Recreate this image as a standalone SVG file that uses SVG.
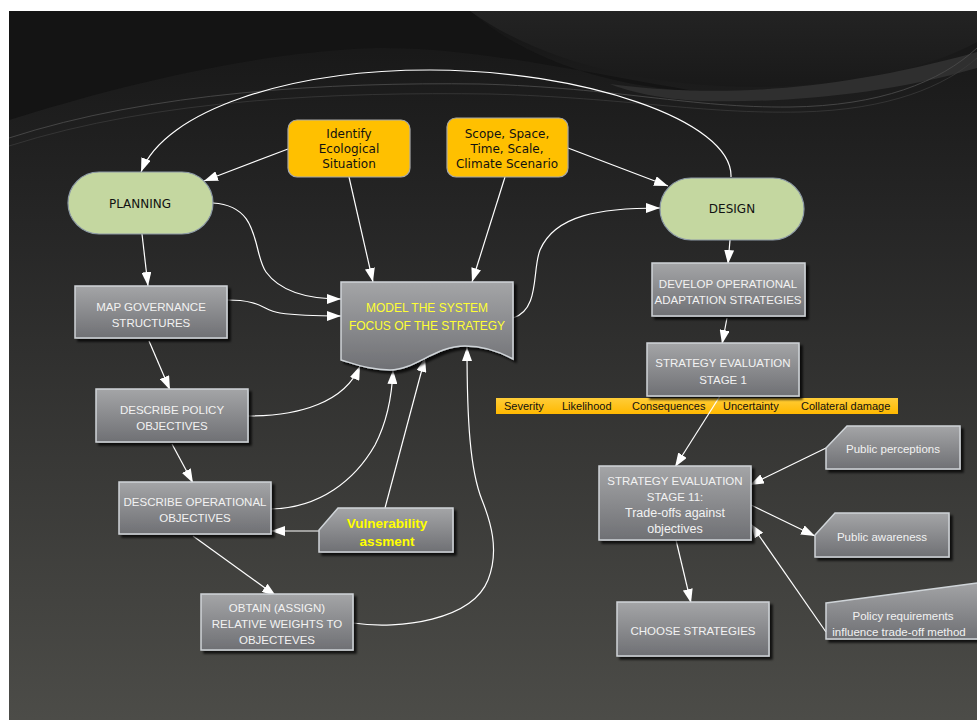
<svg xmlns="http://www.w3.org/2000/svg" width="977" height="720" viewBox="0 0 977 720">
<defs>
<linearGradient id="bg" x1="0" y1="0" x2="0" y2="1">
<stop offset="0" stop-color="#161616"/>
<stop offset="0.3" stop-color="#262626"/>
<stop offset="1" stop-color="#4c4c48"/>
</linearGradient>
<linearGradient id="gray" x1="0" y1="0" x2="0" y2="1">
<stop offset="0" stop-color="#a4a5a7"/>
<stop offset="1" stop-color="#6f7074"/>
</linearGradient>
<linearGradient id="bar" x1="0" y1="0" x2="0" y2="1">
<stop offset="0" stop-color="#ffcd38"/>
<stop offset="1" stop-color="#ffb800"/>
</linearGradient>
<linearGradient id="lobe" x1="0" y1="0" x2="0" y2="1">
<stop offset="0" stop-color="#232323"/>
<stop offset="1" stop-color="#191919"/>
</linearGradient>
<filter id="sh" x="-10%" y="-10%" width="130%" height="140%">
<feDropShadow dx="3" dy="3" stdDeviation="1.2" flood-color="#000" flood-opacity="0.75"/>
</filter>
<marker id="ah" viewBox="0 0 14 10" refX="14" refY="5" markerWidth="14" markerHeight="10" markerUnits="userSpaceOnUse" orient="auto">
<path d="M0,0 L14,5 L0,10 z" fill="#ffffff"/>
</marker>
<style>
.box{fill:url(#gray);stroke:#cfd4d8;stroke-width:1.5;filter:url(#sh)}
.pill{fill:#c4d7a0;stroke:#8d9aa6;stroke-width:1.2}
.org{fill:#ffc000;stroke:#a8a8a8;stroke-width:1.2}
.bt{font-family:"Liberation Sans",Arial,sans-serif;font-size:11.5px;fill:#f2f2f2;text-anchor:middle}
.lt{font-size:12.5px}
.vt{font-family:"DejaVu Sans",Verdana,sans-serif;font-size:12px;fill:#111;text-anchor:middle}
.yt{font-family:"Liberation Sans",Arial,sans-serif;font-size:12px;fill:#ffff33;text-anchor:middle}
.yb{font-family:"Liberation Sans",Arial,sans-serif;font-size:13.5px;font-weight:bold;fill:#ffff00;text-anchor:middle}
.bar{font-family:"Liberation Sans",Arial,sans-serif;font-size:11px;fill:#111}
.c{fill:none;stroke:#ffffff;stroke-width:1.2;marker-end:url(#ah)}
</style>
</defs>

<!-- background -->
<rect x="0" y="0" width="977" height="720" fill="#ffffff"/>
<rect x="9" y="11" width="968" height="709" fill="url(#bg)"/>
<path d="M9,11 H470 C520,55 600,86 700,92 C580,72 470,46 375,48 C250,52 110,88 9,120 Z" fill="#141414"/>
<path d="M470,11 H977 V42 C930,68 850,86 760,87 C650,88 540,62 470,11 Z" fill="url(#lobe)"/>
<path d="M610,84 C700,96 820,96 977,52 V68 C880,96 780,103 700,101 C660,99 630,92 610,84 Z" fill="#2f2f2f"/>
<path d="M9,138 C150,92 330,82 480,84 C620,88 690,108 790,107 C880,106 940,82 977,48" fill="none" stroke="#4a4a4a" stroke-width="0.9"/>
<path d="M9,146 C160,98 340,92 490,94 C630,98 700,114 800,112 C890,110 945,86 977,58" fill="none" stroke="#3a3a3a" stroke-width="0.8"/>

<!-- orange criteria bar -->
<g id="criteria-bar">
<rect x="496" y="398" width="402" height="16" fill="url(#bar)"/>
<text class="bar" x="504" y="410">Severity</text>
<text class="bar" x="562" y="410">Likelihood</text>
<text class="bar" x="632" y="410">Consequences</text>
<text class="bar" x="723" y="410">Uncertainty</text>
<text class="bar" x="801" y="410">Collateral damage</text>
</g>

<!-- connectors -->
<g id="connectors">
<path class="c" d="M731,177 C733,120 580,70 430,70 C290,70 165,110 141,172"/>
<path class="c" d="M288,149 L204,181"/>
<path class="c" d="M349,177 L373,282"/>
<path class="c" d="M505,177 L472,282"/>
<path class="c" d="M568,148 L668,186"/>
<path class="c" d="M213,203 C262,206 252,252 266,272 C282,294 312,299 341,299"/>
<path class="c" d="M227,300 C262,300 262,310 280,313 C300,316 320,316 341,316"/>
<path class="c" d="M142,234 L148,286"/>
<path class="c" d="M149,341 L170,390"/>
<path class="c" d="M172,444 L193,483"/>
<path class="c" d="M248,416 C300,416 345,402 360,366"/>
<path class="c" d="M271,509 C320,508 355,480 375,445 C388,420 392,395 393,370"/>
<path class="c" d="M385,508 L425,358"/>
<path class="c" d="M353,623 C400,630 472,620 488,580 C500,550 490,520 482,500 C470,470 467,420 467,347"/>
<path class="c" d="M319,531 L271,531"/>
<path class="c" d="M193,536 L276,596"/>
<path class="c" d="M513,318 C540,310 532,270 540,250 C555,215 600,208 660,208"/>
<path class="c" d="M730,240 L728,264"/>
<path class="c" d="M727,318 L722,344"/>
<path class="c" d="M720,396 L675,467"/>
<path class="c" d="M826,448 L750,485"/>
<path class="c" d="M751,505 L815,536"/>
<path class="c" d="M826,632 L751,524"/>
<path class="c" d="M676,540 L691,603"/>
</g>

<!-- nodes -->
<g id="planning">
<rect class="pill" x="68" y="172" width="145" height="62" rx="31"/>
<text class="vt" x="140" y="208" font-size="12.5">PLANNING</text>
</g>
<g id="identify">
<rect class="org" x="288" y="120" width="122" height="57" rx="9"/>
<text class="vt" x="349" y="138">Identify</text>
<text class="vt" x="349" y="153">Ecological</text>
<text class="vt" x="349" y="168">Situation</text>
</g>
<g id="scope">
<rect class="org" x="447" y="118" width="121" height="59" rx="9"/>
<text class="vt" x="507" y="138">Scope, Space,</text>
<text class="vt" x="507" y="153">Time, Scale,</text>
<text class="vt" x="507" y="168">Climate Scenario</text>
</g>
<g id="design">
<rect class="pill" x="660" y="178" width="144" height="62" rx="31"/>
<text class="vt" x="732" y="213" font-size="12.5">DESIGN</text>
</g>
<g id="map-governance">
<rect class="box" x="75" y="286" width="152" height="52"/>
<text class="bt" x="151" y="311">MAP GOVERNANCE</text>
<text class="bt" x="151" y="327">STRUCTURES</text>
</g>
<g id="policy-objectives">
<rect class="box" x="96" y="389" width="152" height="53"/>
<text class="bt" x="172" y="414">DESCRIBE POLICY</text>
<text class="bt" x="172" y="430">OBJECTIVES</text>
</g>
<g id="operational-objectives">
<rect class="box" x="119" y="482" width="152" height="52"/>
<text class="bt" x="195" y="506">DESCRIBE OPERATIONAL</text>
<text class="bt" x="195" y="522">OBJECTIVES</text>
</g>
<g id="vulnerability">
<path class="box" d="M338,508 H453 V552 H319 V530 Z"/>
<text class="yb" x="387" y="528">Vulnerability</text>
<text class="yb" x="387" y="546">assment</text>
</g>
<g id="obtain-weights">
<rect class="box" x="201" y="594" width="152" height="56"/>
<text class="bt" x="277" y="612">OBTAIN (ASSIGN)</text>
<text class="bt" x="277" y="628">RELATIVE WEIGHTS TO</text>
<text class="bt" x="277" y="644">OBJECTEVES</text>
</g>
<g id="model-system">
<path class="box" d="M341,282 H513 V359 C500,352 485,346 465,346 C435,346 415,370 390,370 C370,370 355,364 341,360 Z"/>
<text class="yt" x="427" y="312">MODEL THE SYSTEM</text>
<text class="yt" x="427" y="330">FOCUS OF THE STRATEGY</text>
</g>
<g id="develop-strategies">
<rect class="box" x="652" y="263" width="153" height="53"/>
<text class="bt" x="728" y="288">DEVELOP OPERATIONAL</text>
<text class="bt" x="728" y="304">ADAPTATION STRATEGIES</text>
</g>
<g id="evaluation-1">
<rect class="box" x="647" y="343" width="152" height="53"/>
<text class="bt" x="723" y="367">STRATEGY EVALUATION</text>
<text class="bt" x="723" y="384">STAGE 1</text>
</g>
<g id="evaluation-2">
<rect class="box" x="599" y="466" width="152" height="74"/>
<text class="bt" x="675" y="485">STRATEGY EVALUATION</text>
<text class="bt" x="675" y="501">STAGE 11:</text>
<text class="bt lt" x="675" y="517">Trade-offs against</text>
<text class="bt lt" x="675" y="533">objectives</text>
</g>
<g id="public-perceptions">
<path class="box" d="M847,426 H960 V469 H826 V448 Z"/>
<text class="bt" x="893" y="453">Public perceptions</text>
</g>
<g id="public-awareness">
<path class="box" d="M835,513 H949 V557 H815 V535 Z"/>
<text class="bt" x="882" y="541">Public awareness</text>
</g>
<g id="choose-strategies">
<rect class="box" x="617" y="602" width="152" height="54"/>
<text class="bt" x="693" y="635">CHOOSE STRATEGIES</text>
</g>
<g id="policy-requirements">
<path class="box" d="M826,603 L992,581 V639 H826 Z"/>
<text class="bt" x="903" y="620">Policy requirements</text>
<text class="bt" x="899" y="636">influence trade-off method</text>
</g>
</svg>
